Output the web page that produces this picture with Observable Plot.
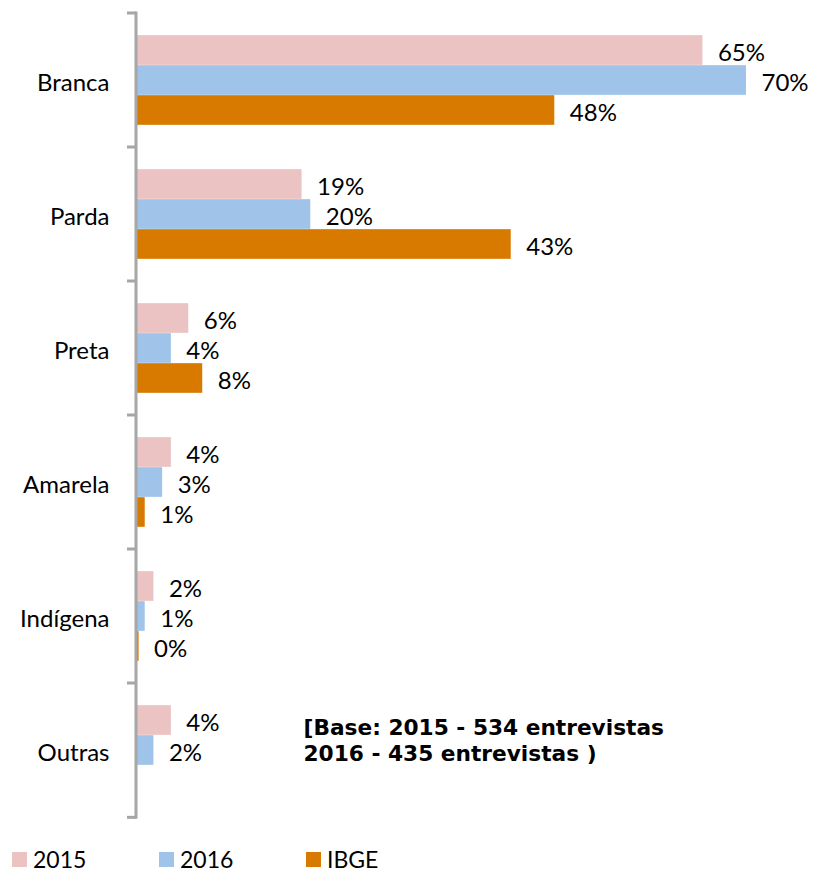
<!DOCTYPE html>
<html><head><meta charset="utf-8">
<script src="https://cdn.jsdelivr.net/npm/d3@7"></script>
<script src="https://cdn.jsdelivr.net/npm/@observablehq/plot@0.6"></script>
<style>
body{margin:0;background:#fff;}
#legend{display:flex;padding-top:10px;padding-left:12px;font-family:Lato, sans-serif;font-size:23px;line-height:23px;color:#000;}
.item{display:flex;align-items:center;width:147px;}
.sw{width:15px;height:15px;margin-right:6px;}
</style></head><body><div id="chart"></div><div id="legend"></div>
<script>
const categories = ["Branca","Parda","Preta","Amarela","Indígena","Outras"];
const series = ["2015","2016","IBGE"];
const colors = ["#EBC3C2","#9FC3E9","#D87A00"];
const values2015 = [65,19,6,4,2,4];
const values2016 = [70,20,4,3,1,2];
const valuesIBGE = [48,43,7.6,1,0.3,null];
const noteLines = ["[Base: 2015 - 534 entrevistas","2016 - 435 entrevistas )"];

const seriesValues = [values2015, values2016, valuesIBGE];
const rows = [];
series.forEach((s,k)=>categories.forEach((c,i)=>{
  const v = seriesValues[k][i];
  if (v != null) rows.push({category:c, series:s, value:v});
}));

const W=814,H=838,mt=12,mb=20,ml=136,mr=68;
const bw=(H-mt-mb)/categories.length;
const barH=bw*0.2233, off=(bw-3*barH)/2;

const marks = [];
series.forEach((s,k)=>{
  const data = rows.filter(r=>r.series===s);
  marks.push(Plot.barX(data,{x:"value",y:"category",fill:colors[k],
    insetTop: off+k*barH, insetBottom: bw-off-(k+1)*barH}));
  marks.push(Plot.text(data,{x:"value",y:"category",text:d=>Math.round(d.value)+"%",
    textAnchor:"start",dx:15,dy:off+(k+0.5)*barH-bw/2+3,fontSize:24,fill:"#000"}));
});
marks.push(Plot.axisY({tickSize:0,tickPadding:27,fontSize:24,dy:3,label:null,fill:"#000"}));
marks.push((index, scales, values, dims) => {
  const y = scales.y, x0 = scales.x(0);
  const edges = categories.map(c=>y(c)).concat([y(categories[categories.length-1])+bw]);
  const g = d3.create("svg:g").attr("stroke","#A6A6A6").attr("stroke-width",3).attr("fill","none");
  g.append("line").attr("x1",x0).attr("x2",x0).attr("y1",edges[0]-1.5).attr("y2",edges[edges.length-1]+1.5);
  g.selectAll("line.t").data(edges).join("line").attr("class","t")
    .attr("x1",x0-9).attr("x2",x0).attr("y1",d=>d).attr("y2",d=>d);
  return g.node();
});
marks.push(Plot.text([noteLines.join("\n")],{frameAnchor:"left",y:()=>"Outras",text:d=>d,
  dx:167,dy:-10.5,textAnchor:"start",lineAnchor:"middle",lineHeight:1.2,
  fontFamily:"DejaVu Sans",fontWeight:"bold",fontSize:21.7,fill:"#000"}));

const chart = Plot.plot({
  width:W,height:H,marginTop:mt,marginBottom:mb,marginLeft:ml,marginRight:mr,
  style:{fontFamily:"Lato, sans-serif",fontSize:"24px",background:"#fff",overflow:"visible"},
  x:{domain:[0,70],axis:null},
  y:{domain:categories,padding:0,axis:null},
  marks
});
document.getElementById("chart").appendChild(chart);

const legend = document.getElementById("legend");
series.forEach((s,k)=>{
  const it = document.createElement("div"); it.className="item";
  const sw = document.createElement("div"); sw.className="sw"; sw.style.background=colors[k];
  const t = document.createElement("span"); t.textContent=s;
  it.appendChild(sw); it.appendChild(t); legend.appendChild(it);
});
</script></body></html>
